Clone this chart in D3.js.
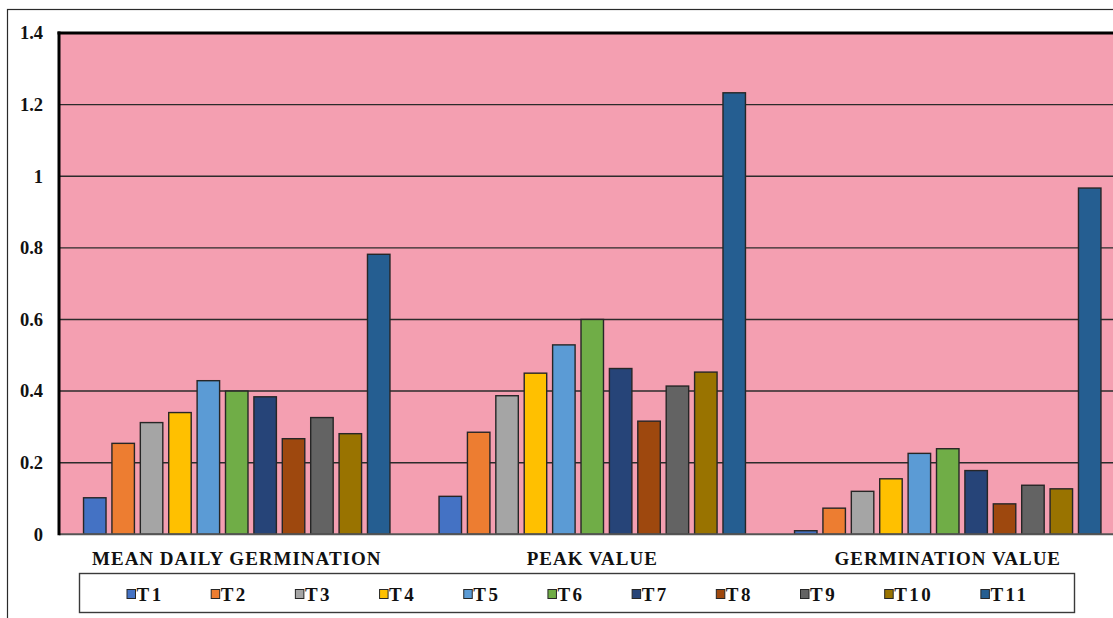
<!DOCTYPE html>
<html>
<head>
<meta charset="utf-8">
<script src="https://cdn.jsdelivr.net/npm/d3@7"></script>
<style>
  html, body { margin: 0; padding: 0; background: #fff; }
  svg { display: block; }
  text { font-family: "Liberation Serif", "Times New Roman", serif; font-weight: bold; fill: #111; }
</style>
</head>
<body>
<svg id="chart" width="1113" height="618"></svg>
<script>
// Germination indices per treatment
const categories = ["MEAN DAILY GERMINATION", "PEAK VALUE", "GERMINATION VALUE"];
const series = ["T1", "T2", "T3", "T4", "T5", "T6", "T7", "T8", "T9", "T10", "T11"];
const meanDailyGermination = [0.102, 0.254, 0.312, 0.340, 0.429, 0.400, 0.384, 0.267, 0.326, 0.281, 0.782];
const peakValue = [0.106, 0.285, 0.387, 0.450, 0.529, 0.600, 0.463, 0.316, 0.414, 0.453, 1.233];
const germinationValue = [0.010, 0.073, 0.120, 0.155, 0.226, 0.239, 0.178, 0.085, 0.137, 0.127, 0.967];
const yTicks = [0, 0.2, 0.4, 0.6, 0.8, 1, 1.2, 1.4];
const colors = ["#4472C4", "#ED7D31", "#A5A5A5", "#FFC000", "#5B9BD5", "#70AD47",
                "#264478", "#9E480E", "#636363", "#997300", "#255E91"];

const valuesByCategory = [meanDailyGermination, peakValue, germinationValue];

const svg = d3.select("#chart");
const W = 1113, H = 618;
const FONT = "'Liberation Serif', 'Times New Roman', serif";

const plot = { left: 59, top: 33, bottom: 534.3, right: 1125.5 };

// outer frame (open at right and bottom edges)
svg.append("rect")
  .attr("x", 7.5).attr("y", 9.5)
  .attr("width", W + 20).attr("height", H + 20)
  .attr("fill", "#fff").attr("stroke", "#2a2a2a").attr("stroke-width", 1.2);

const x0 = d3.scaleBand().domain(categories).range([plot.left, plot.right]).paddingInner(0).paddingOuter(0);
const x1 = d3.scaleBand().domain(series).range([0, x0.bandwidth()]).paddingInner(0.208).paddingOuter(0.864);
const y = d3.scaleLinear().domain([0, 1.4]).range([plot.bottom, plot.top]);

// plot background
svg.append("rect")
  .attr("x", plot.left).attr("y", plot.top)
  .attr("width", plot.right - plot.left).attr("height", plot.bottom - plot.top)
  .attr("fill", "#F49FB1");

// horizontal gridlines
svg.append("g")
  .selectAll("line")
  .data(yTicks.filter(t => t > 0 && t < 1.4))
  .join("line")
  .attr("x1", plot.left).attr("x2", plot.right)
  .attr("y1", d => y(d)).attr("y2", d => y(d))
  .attr("stroke", "#2b2b2b").attr("stroke-width", 1.4);

// bars
const groups = svg.append("g")
  .selectAll("g")
  .data(categories)
  .join("g")
  .attr("transform", d => `translate(${x0(d)},0)`);

groups.selectAll("rect")
  .data((c, i) => series.map((s, j) => ({ s, j, v: valuesByCategory[i][j] })))
  .join("rect")
  .attr("x", d => x1(d.s))
  .attr("y", d => y(d.v))
  .attr("width", x1.bandwidth())
  .attr("height", d => y(0) - y(d.v))
  .attr("fill", d => colors[d.j])
  .attr("stroke", "#262626")
  .attr("stroke-width", 1.4);

// top border
svg.append("line")
  .attr("x1", plot.left - 1.5).attr("x2", plot.right)
  .attr("y1", plot.top).attr("y2", plot.top)
  .attr("stroke", "#000").attr("stroke-width", 3);

// x axis baseline
svg.append("line")
  .attr("x1", plot.left).attr("x2", plot.right)
  .attr("y1", plot.bottom).attr("y2", plot.bottom)
  .attr("stroke", "#555").attr("stroke-width", 2);

// y axis line
svg.append("line")
  .attr("x1", plot.left).attr("x2", plot.left)
  .attr("y1", plot.top - 1.5).attr("y2", plot.bottom + 1)
  .attr("stroke", "#000").attr("stroke-width", 3);

// y tick labels
const yAxis = d3.axisLeft(y).tickValues(yTicks).tickSize(0).tickPadding(16).tickFormat(d3.format("~g"));
const gy = svg.append("g").attr("transform", `translate(${plot.left},0)`).call(yAxis)
  .attr("font-family", FONT).attr("font-size", 18.5);
gy.select(".domain").remove();
gy.selectAll("text")
  .attr("font-weight", "bold")
  .attr("fill", "#111");

// category labels
const xAxis = d3.axisBottom(x0).tickSize(0).tickPadding(17);
const gx = svg.append("g").attr("transform", `translate(0,${plot.bottom})`).call(xAxis)
  .attr("font-family", FONT).attr("font-size", 19);
gx.select(".domain").remove();
gx.selectAll("text")
  .attr("font-weight", "bold")
  .attr("fill", "#111")
  .attr("letter-spacing", 1);

// legend
const legend = { x: 79.5, y: 573.5, w: 995, h: 39 };
svg.append("rect")
  .attr("x", legend.x).attr("y", legend.y)
  .attr("width", legend.w).attr("height", legend.h)
  .attr("fill", "#fff").attr("stroke", "#3a3a3a").attr("stroke-width", 1.4);

const lg = svg.append("g").attr("font-family", FONT).attr("font-size", 19);
let cursor = 126.5;
series.forEach((s, i) => {
  const item = lg.append("g").attr("transform", `translate(${cursor},0)`);
  item.append("rect")
    .attr("x", 0.5).attr("y", 589.5)
    .attr("width", 8.5).attr("height", 9)
    .attr("fill", colors[i]).attr("stroke", "#262626").attr("stroke-width", 1);
  const t = item.append("text")
    .attr("x", 10).attr("y", 601)
    .attr("letter-spacing", 2.5)
    .text(s);
  const tw = t.node().getComputedTextLength();
  cursor += 10 + tw + 47;
});
</script>
</body>
</html>
